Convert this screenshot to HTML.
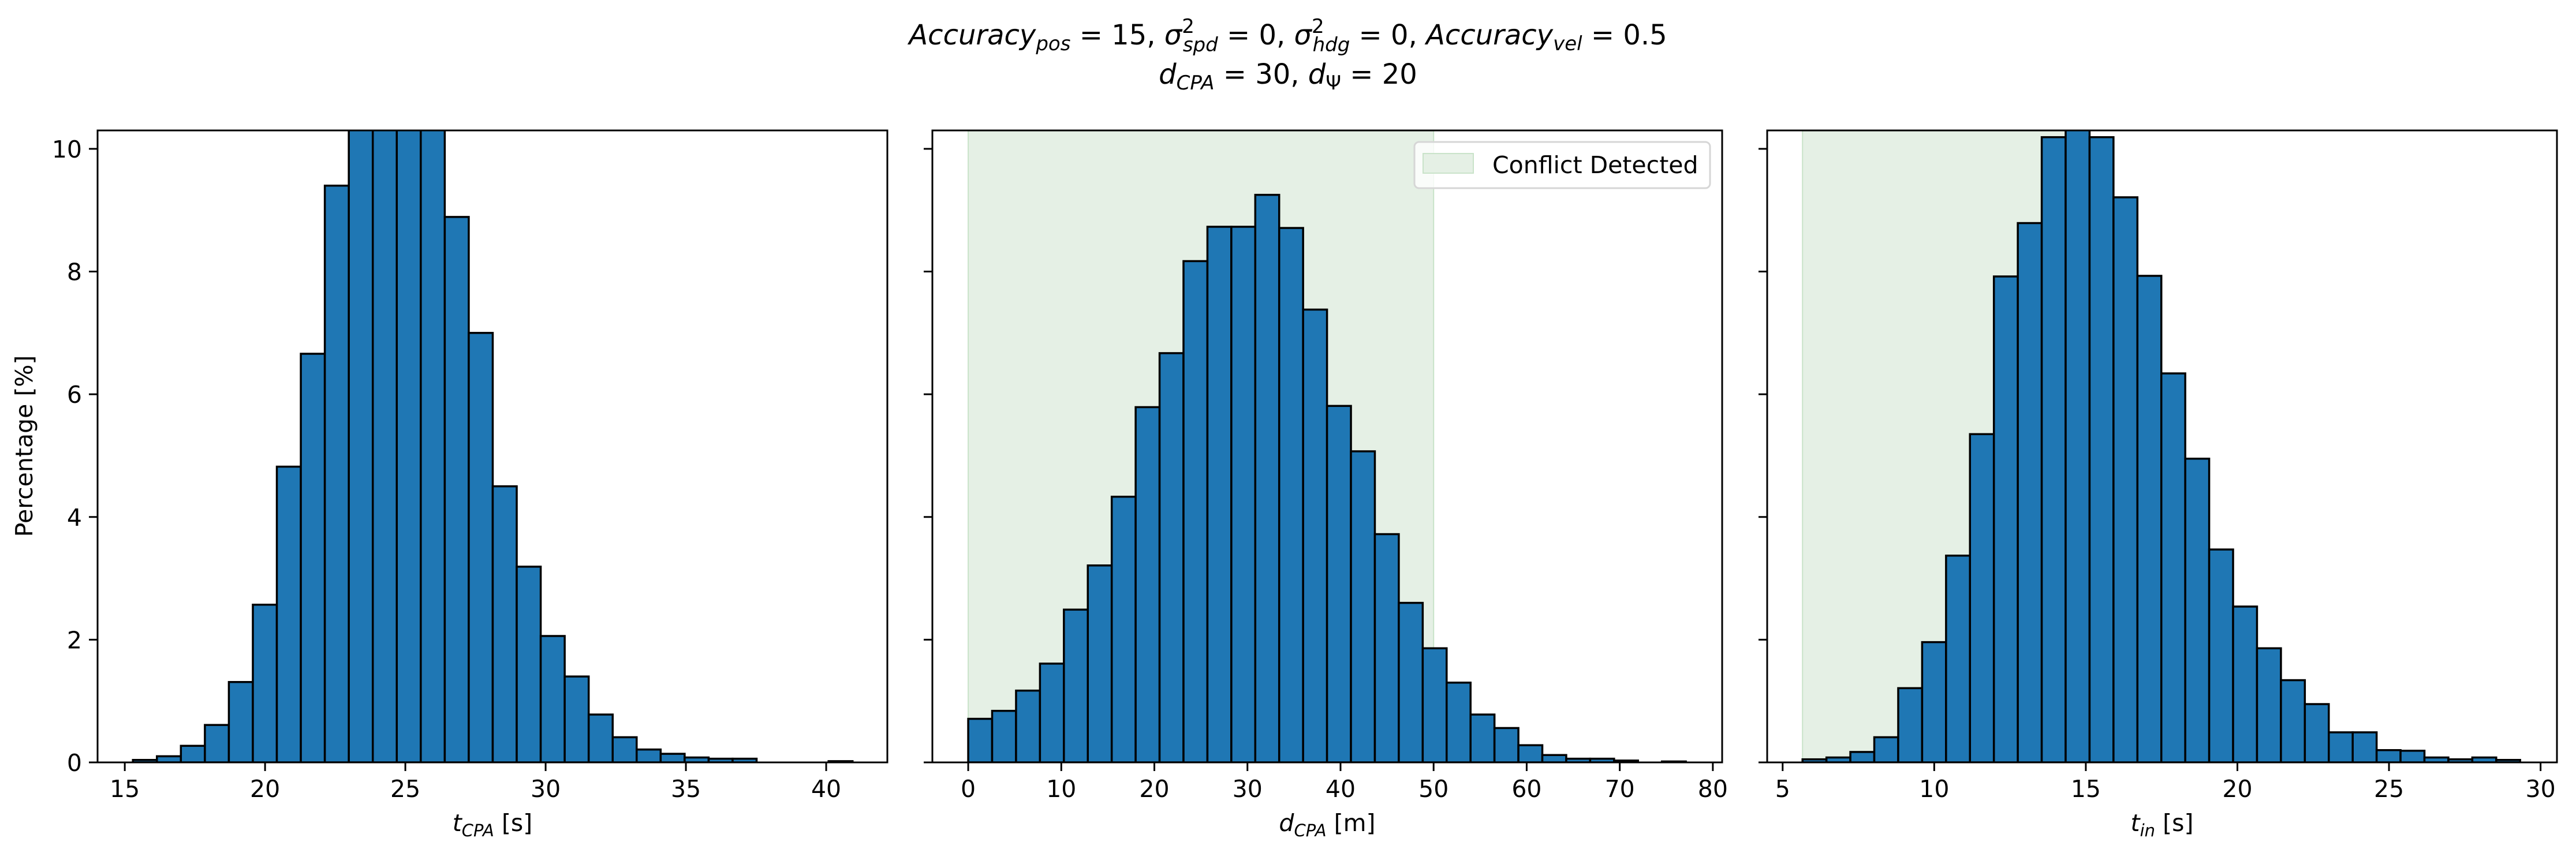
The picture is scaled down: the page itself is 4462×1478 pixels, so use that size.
<!DOCTYPE html>
<html><head><meta charset="utf-8">
<style>
html,body{margin:0;padding:0;background:#fff;}
svg{display:block;font-family:"DejaVu Sans","Liberation Sans",sans-serif;}
</style></head>
<body>
<svg id="chart" width="4462" height="1478" viewBox="0 0 4462 1478" xmlns="http://www.w3.org/2000/svg">
<text x="2231" y="77" text-anchor="middle" font-size="48"><tspan font-style="italic">Accuracy</tspan><tspan font-style="italic" font-size="34" dy="10">pos</tspan><tspan dy="-10"> = 15, </tspan><tspan font-style="italic">σ</tspan><tspan font-size="34" dy="-20">2</tspan><tspan font-style="italic" font-size="34" dx="-20" dy="32">spd</tspan><tspan dy="-12"> = 0, </tspan><tspan font-style="italic">σ</tspan><tspan font-size="34" dy="-20">2</tspan><tspan font-style="italic" font-size="34" dx="-20" dy="32">hdg</tspan><tspan dy="-12"> = 0, </tspan><tspan font-style="italic">Accuracy</tspan><tspan font-style="italic" font-size="34" dy="10">vel</tspan><tspan dy="-10"> = 0.5</tspan></text>
<text x="2231" y="145" text-anchor="middle" font-size="48"><tspan font-style="italic">d</tspan><tspan font-style="italic" font-size="34" dy="10">CPA</tspan><tspan dy="-10"> = 30, </tspan><tspan font-style="italic">d</tspan><tspan font-size="34" dy="10">Ψ</tspan><tspan dy="-10"> = 20</tspan></text>
<g id="panels"></g>
</svg>
<script>
// ---- data ----
const tcpaStart = 15.29, tcpaWidth = 0.855;
const tcpaValues = [0.04,0.10,0.27,0.61,1.31,2.57,4.82,6.66,9.40,10.9,11.6,11.4,10.6,8.89,7.00,4.50,3.19,2.06,1.40,0.78,0.41,0.21,0.14,0.08,0.06,0.06,0,0,0,0.02];
const dcpaStart = 0, dcpaWidth = 2.57;
const dcpaValues = [0.71,0.84,1.17,1.61,2.49,3.21,4.33,5.79,6.67,8.17,8.73,8.73,9.25,8.71,7.38,5.81,5.07,3.72,2.60,1.86,1.30,0.78,0.56,0.28,0.12,0.06,0.06,0.03,0,0.015];
const tinStart = 5.656, tinWidth = 0.789;
const tinValues = [0.05,0.08,0.17,0.41,1.21,1.96,3.37,5.35,7.92,8.79,10.19,10.4,10.19,9.21,7.93,6.34,4.95,3.47,2.54,1.86,1.34,0.95,0.49,0.49,0.20,0.19,0.08,0.05,0.08,0.04];
const tcpaTicks = [15,20,25,30,35,40];
const dcpaTicks = [0,10,20,30,40,50,60,70,80];
const tinTicks = [5,10,15,20,25,30];
const yTicks = [0,2,4,6,8,10];
const dcpaShade = [0,50];
const tinShade = [5.656,15];

const NS="http://www.w3.org/2000/svg";
const root=document.getElementById('panels');
function mk(tag,attrs,parent){const e=document.createElementNS(NS,tag);for(const k in attrs)e.setAttribute(k,attrs[k]);(parent||root).appendChild(e);return e;}

const TOP=226, BOT=1321, YMAX=10.3;
function yS(v){return BOT-(v/YMAX)*(BOT-TOP);}

const panels=[
 {name:'tcpa',left:169,right:1537,xmin:14.03,xmax:42.18,start:tcpaStart,w:tcpaWidth,vals:tcpaValues,ticks:tcpaTicks,shade:null,label:['t','CPA',' [s]'],ylabels:true},
 {name:'dcpa',left:1615,right:2983,xmin:-3.85,xmax:81.0,start:dcpaStart,w:dcpaWidth,vals:dcpaValues,ticks:dcpaTicks,shade:dcpaShade,label:['d','CPA',' [m]'],ylabels:false,legend:true},
 {name:'tin',left:3061,right:4429,xmin:4.49,xmax:30.54,start:tinStart,w:tinWidth,vals:tinValues,ticks:tinTicks,shade:tinShade,label:['t','in',' [s]'],ylabels:false}
];

panels.forEach(p=>{
 const g=mk('g',{});
 
 
 const xS=v=>p.left+(v-p.xmin)/(p.xmax-p.xmin)*(p.right-p.left);
 const clipId='clip-'+p.name;
 const defs=mk('defs',{},g);
 const cp=mk('clipPath',{id:clipId},defs);
 mk('rect',{x:p.left,y:TOP,width:p.right-p.left,height:BOT-TOP},cp);
 const plot=mk('g',{'clip-path':'url(#'+clipId+')'},g);
 if(p.shade){
  const s=mk('rect',{x:xS(p.shade[0]),y:TOP,width:xS(p.shade[1])-xS(p.shade[0]),height:BOT-TOP,fill:'#e5f0e5',stroke:'#c9e3c9','stroke-width':2},plot);
  
  
 }
 p.vals.forEach((v,i)=>{
  const x0=xS(p.start+i*p.w), x1=xS(p.start+(i+1)*p.w);
  const b=mk('rect',{x:x0,y:yS(v),width:x1-x0,height:BOT-yS(v),fill:'#1f77b4',stroke:'#000','stroke-width':3.5},plot);
  
  
 });
 const fr=mk('rect',{x:p.left,y:TOP,width:p.right-p.left,height:BOT-TOP,fill:'none',stroke:'#000','stroke-width':3},g);
 
 
 p.ticks.forEach(t=>{
  const x=xS(t);
  mk('line',{x1:x,x2:x,y1:BOT,y2:BOT+15,stroke:'#000','stroke-width':3},g);
  const tx=mk('text',{x:x,y:BOT+60,'text-anchor':'middle','font-size':41},g);
  tx.textContent=t;
  
  
 });
 yTicks.forEach(t=>{
  const y=yS(t);
  mk('line',{x1:p.left-15,x2:p.left,y1:y,y2:y,stroke:'#000','stroke-width':3},g);
  if(p.ylabels){
   const ty=mk('text',{x:p.left-27,y:y+15,'text-anchor':'end','font-size':41},g);
   ty.textContent=t;
   
   
  }
 });
 const xl=mk('text',{x:(p.left+p.right)/2,y:1440,'text-anchor':'middle','font-size':41},g);
 
 
 const a=mk('tspan',{'font-style':'italic'},xl);a.textContent=p.label[0];
 const b2=mk('tspan',{'font-style':'italic','font-size':29,dy:9},xl);b2.textContent=p.label[1];
 const c=mk('tspan',{dy:-9},xl);c.textContent=p.label[2];
 if(p.ylabels){
  const yl=mk('text',{x:0,y:0,'text-anchor':'middle','font-size':41,transform:'translate(56,773) rotate(-90)'},g);
  yl.textContent='Percentage [%]';
  
  
 }
 if(p.legend){
  const lg=mk('g',{},g);
  
  
  mk('rect',{x:2450,y:246,width:512,height:80,rx:8,fill:'rgba(255,255,255,0.8)',stroke:'#d6d6d6','stroke-width':3},lg);
  const pe=mk('rect',{x:2465,y:266,width:87,height:34,fill:'#e5f0e5',stroke:'#c9e3c9','stroke-width':2},lg);
  
  
  const lt=mk('text',{x:2585,y:300,'font-size':41},lg);
  lt.textContent='Conflict Detected';
 }
});
</script>
</body></html>
